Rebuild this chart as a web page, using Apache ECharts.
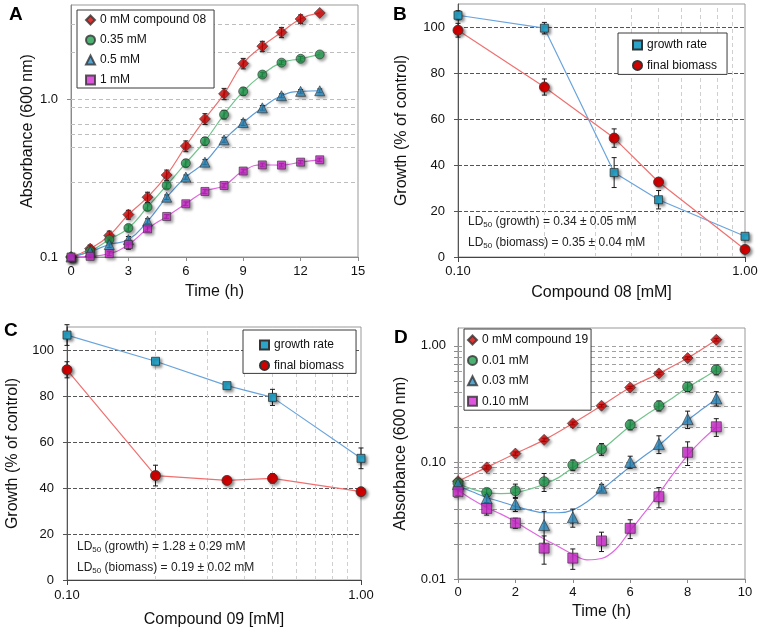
<!DOCTYPE html>
<html><head><meta charset="utf-8">
<script src="https://cdn.jsdelivr.net/npm/echarts@6/dist/echarts.min.js"></script>
<style>html,body{margin:0;padding:0;background:#fff}#c{width:762px;height:632px}</style>
</head><body><div id="c"></div><script>
const FONT = "'Liberation Sans', Arial, sans-serif";

// ---------- Panel A: growth curves, compound 08 ----------
const aNames = ['0 mM compound 08', '0.35 mM', '0.5 mM', '1 mM'];
const aTime = [0,1,2,3,4,5,6,7,8,9,10,11,12,13];
const aCtrl = [0.100,0.113,0.137,0.186,0.240,0.332,0.507,0.755,1.09,1.70,2.19,2.68,3.26,3.56];
const a035  = [0.100,0.109,0.129,0.153,0.208,0.285,0.395,0.545,0.805,1.13,1.445,1.72,1.82,1.94];
const a05   = [0.100,0.108,0.120,0.129,0.169,0.240,0.322,0.401,0.556,0.716,0.888,1.06,1.13,1.14];
const a1    = [0.100,0.101,0.105,0.120,0.151,0.181,0.218,0.261,0.285,0.352,0.385,0.384,0.401,0.415];
const aCtrlErr = [0,0.006,0.009,0.012,0.018,0.025,0.04,0.06,0.09,0.13,0.16,0.2,0.2,0];
const a035Err  = [0,0.004,0.005,0.007,0.01,0.012,0.02,0.03,0.05,0.06,0.05,0.05,0.06,0];
const a05Err   = [0,0.003,0.005,0.006,0.006,0.008,0.01,0.015,0.02,0.03,0.03,0.03,0.03,0.03];
const a1Err    = [0,0.002,0.003,0.008,0.006,0.005,0.006,0.008,0.008,0.01,0.01,0.01,0.01,0.01];
const aGridY = [0.3,0.5,0.6,0.7,0.9,1,2,3];
const aYTicks = [0.1, 1];

// ---------- Panel B: dose response, compound 08 ----------
const bNames = ['growth rate', 'final biomass'];
const bConc = [0.1,0.2,0.35,0.5,1.0];
const bRate = [105.1,99.5,36.7,24.9,9.0];
const bRateErr = [2,2.5,6.5,4,1];
const bBio = [98.6,73.9,51.7,32.6,3.3];
const bBioErr = [3,3.5,4,1.5,1];
const bText = ['LD', '50', ' (growth) = 0.34 ± 0.05 mM', 'LD', '50', ' (biomass) = 0.35 ± 0.04 mM'];

// ---------- Panel C: dose response, compound 09 ----------
const cConc = [0.1,0.2,0.35,0.5,1.0];
const cRate = [106.5,95.1,84.5,79.4,52.9];
const cRateErr = [4.5,1,1,3.5,4.5];
const cBio = [91.4,45.4,43.3,44.2,38.4];
const cBioErr = [3.5,4.5,1,2,1];
const cText = ['LD', '50', ' (growth) = 1.28 ± 0.29 mM', 'LD', '50', ' (biomass) = 0.19 ± 0.02 mM'];

const pctGridY = [20,40,60,80,100];
const pctTicks = [0,20,40,60,80,100];
const concGridX = [0.2,0.3,0.4,0.5,0.6,0.7,0.8,0.9];
const concTicks = [0.1, 1];

// ---------- Panel D: growth curves, compound 19 ----------
const dNames = ['0 mM compound 19', '0.01 mM', '0.03 mM', '0.10 mM'];
const dTime = [0,1,2,3,4,5,6,7,8,9];
const dCtrl = [0.069,0.0906,0.119,0.156,0.216,0.306,0.439,0.579,0.784,1.126];
const d001  = [0.0665,0.0553,0.0571,0.0683,0.0949,0.130,0.210,0.306,0.445,0.623];
const d003  = [0.0652,0.0491,0.0439,0.029,0.0338,0.0607,0.101,0.144,0.235,0.354];
const d010  = [0.0561,0.0403,0.0302,0.0184,0.0151,0.0212,0.0272,0.0508,0.122,0.202];
const dCtrlErr = [0.003,0.003,0.004,0.005,0.006,0.008,0.01,0.015,0.02,0.03];
const d001Err  = [0.003,0.004,0.008,0.012,0.01,0.015,0.02,0.03,0.04,0.06];
const d003Err  = [0.003,0.004,0.006,0.009,0.006,0.004,0.012,0.025,0.04,0.05];
const d010Err  = [0.004,0.005,0.003,0.005,0.003,0.004,0.005,0.01,0.028,0.035];
// fitted curves (control curve follows its points)
const dFitTime = [0,0.5,1,1.5,2,2.5,3,3.5,4,4.5,5,5.5,6,6.5,7,7.5,8,8.5,9];
const dFit001 = [0.066,0.059,0.055,0.054,0.055,0.059,0.065,0.074,0.09,0.107,0.128,0.162,0.205,0.25,0.30,0.36,0.44,0.52,0.62];
const dFit003 = [0.063,0.056,0.050,0.046,0.042,0.039,0.037,0.037,0.039,0.046,0.058,0.073,0.092,0.114,0.14,0.18,0.23,0.285,0.35];
const dFit010 = [0.058,0.048,0.041,0.036,0.031,0.026,0.022,0.019,0.0163,0.0146,0.015,0.018,0.026,0.037,0.054,0.08,0.115,0.155,0.20];
const dGridY = [0.02,0.03,0.04,0.06,0.07,0.08,0.09,0.1,0.2,0.3,0.4,0.5,0.6,0.7,0.8,0.9,1];
const dYTicks = [0.01,0.02,0.03,0.04,0.05,0.06,0.07,0.08,0.09,0.1,0.2,0.3,0.4,0.5,0.6,0.7,0.8,0.9,1];
const dYLabels = [0.01, 0.1, 1];

// ---------- helpers ----------
function pts(xs, ys) { return xs.map((x, i) => [x, ys[i]]); }
function errPts(xs, ys, es) {
  const out = [];
  xs.forEach((x, i) => { if (es[i] > 0) out.push([x, ys[i], es[i]]); });
  return out;
}
function errRender(params, api) {
  const x = api.value(0), y = api.value(1), e = api.value(2);
  const p1 = api.coord([x, y + e]);
  const p2 = api.coord([x, Math.max(y - e, 1e-6)]);
  const w = 2.5, st = { stroke: '#1a1a1a', lineWidth: 1 };
  return { type: 'group', children: [
    { type: 'line', shape: { x1: p1[0], y1: p1[1], x2: p2[0], y2: p2[1] }, style: st },
    { type: 'line', shape: { x1: p1[0] - w, y1: p1[1], x2: p1[0] + w, y2: p1[1] }, style: st },
    { type: 'line', shape: { x1: p2[0] - w, y1: p2[1], x2: p2[0] + w, y2: p2[1] }, style: st }
  ]};
}
function errSeries(idx, data) {
  return { type: 'custom', xAxisIndex: idx, yAxisIndex: idx, renderItem: errRender,
    data: data, encode: { x: 0, y: 1 }, z: 3, silent: true };
}
function mk(color) {
  return { color: color, borderColor: '#333', borderWidth: 0.8,
    shadowColor: 'rgba(0,0,0,0.45)', shadowBlur: 3, shadowOffsetX: 2, shadowOffsetY: 2 };
}
function isDecade(v) { const l = Math.log10(v); return Math.abs(l - Math.round(l)) < 1e-6; }

const COL = {
  red: '#d40000', redLine: '#f07070',
  green: '#1f9e4e', greenLine: '#72c48c',
  blue: '#2c8fc6', blueLine: '#5d9bd6',
  pink: '#d62ad6', pinkLine: '#e068e0',
  teal: '#2aa5c9', tealLine: '#6aa4dc'
};

const series = [];

// Panel A series
const aSets = [
  [aNames[0], aCtrl, aCtrlErr, 'diamond', 11, COL.red, COL.redLine],
  [aNames[1], a035, a035Err, 'circle', 9, COL.green, COL.greenLine],
  [aNames[2], a05, a05Err, 'triangle', 10, COL.blue, COL.blueLine],
  [aNames[3], a1, a1Err, 'rect', 8, COL.pink, COL.pinkLine]
];
aSets.forEach((s, k) => {
  const line = { type: 'line', xAxisIndex: 0, yAxisIndex: 0, data: pts(aTime, s[1]), smooth: 0.5,
    showSymbol: false, symbol: 'none', silent: true,
    lineStyle: { color: s[6], width: 1.2 }, z: 2 };
  if (k === 0) {
    line.markLine = { silent: true, symbol: 'none', z: 1, label: { show: false },
      lineStyle: { color: '#bdbdbd', type: [4, 3], width: 1 },
      data: aGridY.map(v => ({ yAxis: v })) };
  }
  series.push(line);
  series.push(errSeries(0, errPts(aTime, s[1], s[2])));
  series.push({ type: 'scatter', name: s[0], xAxisIndex: 0, yAxisIndex: 0, data: pts(aTime, s[1]),
    symbol: s[3], symbolSize: s[4], itemStyle: mk(s[5]), z: 4 });
});

// Panel B & C series
function doseSeries(idx, conc, rate, rateErr, bio, bioErr) {
  series.push({ type: 'line', name: bNames[0], xAxisIndex: idx, yAxisIndex: idx, data: pts(conc, rate),
    symbol: 'rect', symbolSize: 8, itemStyle: mk(COL.teal), lineStyle: { color: COL.tealLine, width: 1.2 }, z: 4,
    markLine: { silent: true, symbol: 'none', z: 1, label: { show: false },
      data: pctGridY.map(v => ({ yAxis: v, lineStyle: { color: '#555', type: [4, 2], width: 1 } }))
        .concat(concGridX.map(v => ({ xAxis: v, lineStyle: { color: '#cfcfcf', type: [4, 3], width: 1 } }))) } });
  series.push({ type: 'line', name: bNames[1], xAxisIndex: idx, yAxisIndex: idx, data: pts(conc, bio),
    symbol: 'circle', symbolSize: 10, itemStyle: mk(COL.red), lineStyle: { color: COL.redLine, width: 1.2 }, z: 4 });
  series.push(errSeries(idx, errPts(conc, rate, rateErr)));
  series.push(errSeries(idx, errPts(conc, bio, bioErr)));
}
doseSeries(1, bConc, bRate, bRateErr, bBio, bBioErr);
doseSeries(2, cConc, cRate, cRateErr, cBio, cBioErr);

// Panel D series
const dSets = [
  [dNames[0], dCtrl, dCtrlErr, 'diamond', 11, COL.red, COL.redLine, dTime, dCtrl],
  [dNames[1], d001, d001Err, 'circle', 10, COL.green, COL.greenLine, dFitTime, dFit001],
  [dNames[2], d003, d003Err, 'triangle', 11, COL.blue, COL.blueLine, dFitTime, dFit003],
  [dNames[3], d010, d010Err, 'rect', 10, COL.pink, COL.pinkLine, dFitTime, dFit010]
];
dSets.forEach((s, k) => {
  const line = { type: 'line', xAxisIndex: 3, yAxisIndex: 3, data: pts(s[7], s[8]), smooth: 0.4,
    showSymbol: false, symbol: 'none', silent: true,
    lineStyle: { color: s[6], width: 1.2 }, z: 2 };
  if (k === 0) {
    line.markLine = { silent: true, symbol: 'none', z: 1, label: { show: false },
      lineStyle: { color: '#a0a0a0', type: [4, 3], width: 1 },
      data: dGridY.map(v => ({ yAxis: v })) };
  }
  series.push(line);
  series.push(errSeries(3, errPts(dTime, s[1], s[2])));
  series.push({ type: 'scatter', name: s[0], xAxisIndex: 3, yAxisIndex: 3, data: pts(dTime, s[1]),
    symbol: s[3], symbolSize: s[4], itemStyle: mk(s[5]), z: 4 });
});

// ---------- axes ----------
const axisGray = { lineStyle: { color: '#8a8a8a', width: 1 } };
const axisDark = { lineStyle: { color: '#444', width: 1 } };
const nameStyle = { fontFamily: FONT, fontSize: 16, color: '#111' };
const labStyle = { fontFamily: FONT, fontSize: 13, color: '#111' };

const xAxis = [
  { gridIndex: 0, type: 'value', min: 0, max: 15, interval: 3, name: 'Time (h)', nameLocation: 'middle', nameGap: 27,
    nameTextStyle: nameStyle, axisLine: axisGray, axisTick: { length: 4, lineStyle: { color: '#8a8a8a' } },
    axisLabel: Object.assign({ margin: 8 }, labStyle), splitLine: { show: false } },
  { gridIndex: 1, type: 'log', logBase: 10, min: 0.1, max: 1, name: 'Compound 08 [mM]', nameLocation: 'middle', nameGap: 28,
    nameTextStyle: nameStyle, axisLine: axisDark, axisTick: { length: 5, lineStyle: { color: '#444' }, customValues: concTicks },
    axisLabel: Object.assign({ margin: 8, customValues: concTicks, formatter: v => v.toFixed(2) }, labStyle), splitLine: { show: false } },
  { gridIndex: 2, type: 'log', logBase: 10, min: 0.1, max: 1, name: 'Compound 09 [mM]', nameLocation: 'middle', nameGap: 32,
    nameTextStyle: nameStyle, axisLine: axisDark, axisTick: { length: 5, lineStyle: { color: '#444' }, customValues: concTicks },
    axisLabel: Object.assign({ margin: 9, customValues: concTicks, formatter: v => v.toFixed(2) }, labStyle), splitLine: { show: false } },
  { gridIndex: 3, type: 'value', min: 0, max: 10, interval: 2, name: 'Time (h)', nameLocation: 'middle', nameGap: 25,
    nameTextStyle: nameStyle, axisLine: axisGray, axisTick: { length: 4, lineStyle: { color: '#8a8a8a' } },
    axisLabel: Object.assign({ margin: 7 }, labStyle), splitLine: { show: false } }
];
const yAxis = [
  { gridIndex: 0, type: 'log', logBase: 10, min: 0.1, max: 4, name: 'Absorbance (600 nm)', nameLocation: 'middle', nameGap: 33,
    nameTextStyle: nameStyle, axisLine: { show: true, lineStyle: { color: '#8a8a8a' } },
    axisTick: { show: true, length: 4, lineStyle: { color: '#8a8a8a' }, customValues: aYTicks },
    axisLabel: Object.assign({ margin: 13, customValues: aYTicks, formatter: v => isDecade(v) ? v.toFixed(1) : '' }, labStyle),
    splitLine: { show: false } },
  { gridIndex: 1, type: 'value', min: 0, max: 110, interval: 20, name: 'Growth (% of control)', nameLocation: 'middle', nameGap: 48,
    nameTextStyle: nameStyle, axisLine: { show: true, lineStyle: { color: '#555' } },
    axisTick: { show: true, length: 4, lineStyle: { color: '#555' }, customValues: pctTicks },
    axisLabel: Object.assign({ margin: 13, customValues: pctTicks }, labStyle), splitLine: { show: false } },
  { gridIndex: 2, type: 'value', min: 0, max: 110, interval: 20, name: 'Growth (% of control)', nameLocation: 'middle', nameGap: 46,
    nameTextStyle: nameStyle, axisLine: { show: true, lineStyle: { color: '#555' } },
    axisTick: { show: true, length: 4, lineStyle: { color: '#555' }, customValues: pctTicks },
    axisLabel: Object.assign({ margin: 13, customValues: pctTicks }, labStyle), splitLine: { show: false } },
  { gridIndex: 3, type: 'log', logBase: 10, min: 0.01, max: 1.42, name: 'Absorbance (600 nm)', nameLocation: 'middle', nameGap: 49,
    nameTextStyle: nameStyle, axisLine: { show: true, lineStyle: { color: '#8a8a8a' } },
    axisTick: { show: true, length: 4, lineStyle: { color: '#8a8a8a' }, customValues: dYTicks },
    axisLabel: Object.assign({ margin: 12, customValues: dYLabels, formatter: v => isDecade(v) ? v.toFixed(2) : '' }, labStyle),
    splitLine: { show: false } }
];

// ---------- legends ----------
const legBase = { orient: 'vertical', backgroundColor: '#fff', borderColor: '#3a3a3a', borderWidth: 1, borderRadius: 0,
  itemWidth: 9, itemHeight: 9, textStyle: { fontFamily: FONT, fontSize: 12, color: '#111' }, selectedMode: false, z: 10,
  itemStyle: { shadowBlur: 0, shadowOffsetX: 0, shadowOffsetY: 0, shadowColor: 'rgba(0,0,0,0)' } };
const legend = [
  Object.assign({}, legBase, { left: 77, top: 10, padding: [4, 8, 2, 8], itemGap: 8, data: aNames }),
  Object.assign({}, legBase, { left: 618, top: 33, padding: [6, 10, 3, 14], itemGap: 8.4,
    data: [{ name: bNames[0], icon: 'rect' }, { name: bNames[1], icon: 'circle' }] }),
  Object.assign({}, legBase, { left: 243, top: 330, padding: [9, 12, 2, 16], itemGap: 8.4,
    data: [{ name: bNames[0], icon: 'rect' }, { name: bNames[1], icon: 'circle' }] }),
  Object.assign({}, legBase, { left: 464, top: 329, padding: [5, 3, 3, 3], itemGap: 8.4, data: dNames })
];

// ---------- text ----------
function ldText(left, top, parts) {
  const rich = {
    n: { fontFamily: FONT, fontSize: 12, fill: '#222', lineHeight: 21 },
    s: { fontFamily: FONT, fontSize: 8, fill: '#222', lineHeight: 21, padding: [7, 0, 0, 0] }
  };
  return { type: 'text', left: left, top: top, z: 20, silent: true,
    style: { text: '{n|' + parts[0] + '}{s|' + parts[1] + '}{n|' + parts[2] + '}\n{n|' + parts[3] + '}{s|' + parts[4] + '}{n|' + parts[5] + '}', rich: rich } };
}
function panelLetter(t, left, top) {
  return { type: 'text', left: left, top: top, z: 20, silent: true,
    style: { text: t, fontFamily: FONT, fontSize: 19, fontWeight: 'bold', fill: '#000' } };
}

const option = {
  animation: false,
  backgroundColor: '#fff',
  textStyle: { fontFamily: FONT },
  grid: [
    { left: 71, top: 5, width: 287, height: 252, show: true, borderColor: '#999', borderWidth: 1, backgroundColor: 'transparent' },
    { left: 458, top: 4, width: 287, height: 253, show: true, borderColor: '#999', borderWidth: 1, backgroundColor: 'transparent' },
    { left: 67, top: 327, width: 294, height: 253, show: true, borderColor: '#999', borderWidth: 1, backgroundColor: 'transparent' },
    { left: 458, top: 328, width: 287, height: 251, show: true, borderColor: '#999', borderWidth: 1, backgroundColor: 'transparent' }
  ],
  xAxis: xAxis,
  yAxis: yAxis,
  legend: legend,
  series: series,
  graphic: [
    panelLetter('A', 9, 5), panelLetter('B', 393, 5), panelLetter('C', 4, 321), panelLetter('D', 394, 328),
    ldText(468, 214, bText), ldText(77, 539, cText)
  ]
};
const chart = echarts.init(document.getElementById('c'), null, { renderer: 'canvas' });
chart.setOption(option);
</script></body></html>
